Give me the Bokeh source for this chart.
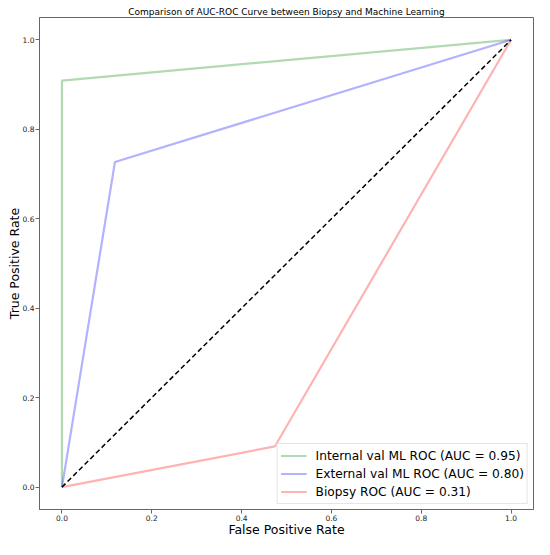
from bokeh.plotting import figure
from bokeh.models import Range1d, FixedTicker, PrintfTickFormatter, Legend, LegendItem
from bokeh.embed import file_html
from bokeh.resources import INLINE

# Data
internal_fpr = [0.0, 0.0, 1.0]
internal_tpr = [0.0, 0.909, 1.0]
external_fpr = [0.0, 0.118, 1.0]
external_tpr = [0.0, 0.727, 1.0]
biopsy_fpr = [0.0, 0.474, 1.0]
biopsy_tpr = [0.0, 0.091, 1.0]
diag = [0.0, 1.0]
labels = ["Internal val ML ROC (AUC = 0.95)",
          "External val ML ROC (AUC = 0.80)",
          "Biopsy ROC (AUC = 0.31)"]
ticks = [0.0, 0.2, 0.4, 0.6, 0.8, 1.0]

FONT = "DejaVu Sans"

p = figure(width=534, height=539, output_backend="svg", toolbar_location=None,
           x_range=Range1d(-0.05, 1.05), y_range=Range1d(-0.05, 1.05),
           min_border_left=39, min_border_right=1, min_border_top=17, min_border_bottom=0)

p.title.text = "Comparison of AUC-ROC Curve between Biopsy and Machine Learning"
p.title.text_font = FONT
p.title.text_font_size = "9px"
p.title.text_font_style = "normal"
p.title.text_color = "black"
p.title.align = "center"
p.title.offset = 0
p.title.standoff = 2

r1 = p.line(internal_fpr, internal_tpr, line_color="green", line_alpha=0.3, line_width=2.2)
r2 = p.line(external_fpr, external_tpr, line_color="blue", line_alpha=0.3, line_width=2.2)
r3 = p.line(biopsy_fpr, biopsy_tpr, line_color="red", line_alpha=0.3, line_width=2.2)
p.line(diag, diag, line_color="black", line_dash="5 3", line_width=1.5)

legend = Legend(items=[LegendItem(label=labels[0], renderers=[r1]),
                       LegendItem(label=labels[1], renderers=[r2]),
                       LegendItem(label=labels[2], renderers=[r3])],
                location="bottom_right")
legend.label_text_font = FONT
legend.label_text_font_size = "12.2px"
legend.label_text_color = "black"
legend.label_height = 17
legend.glyph_width = 26
legend.glyph_height = 17
legend.label_standoff = 9
legend.spacing = 1
legend.padding = 3
legend.margin = 5
legend.border_line_color = "#cccccc"
legend.background_fill_alpha = 0.8
p.add_layout(legend)

for ax in (p.xaxis, p.yaxis):
    ax.ticker = FixedTicker(ticks=ticks)
    ax.formatter = PrintfTickFormatter(format="%.1f")
    ax.major_label_text_font = FONT
    ax.major_label_text_font_size = "7.5px"
    ax.major_label_text_color = "#222222"
    ax.minor_tick_line_color = None
    ax.major_tick_out = 4
    ax.major_tick_in = 0
    ax.axis_line_color = "#666666"
    ax.major_tick_line_color = "#666666"
    ax.axis_label_text_font = FONT
    ax.axis_label_text_font_size = "12.5px"
    ax.axis_label_text_font_style = "normal"
    ax.axis_label_text_color = "black"
    ax.axis_label_standoff = -2
    ax.major_label_standoff = 1

p.xaxis.axis_label = "False Positive Rate"
p.yaxis.axis_label = "True Positive Rate"
p.outline_line_color = "#666666"
p.outline_line_alpha = 1.0
p.xgrid.grid_line_color = None
p.ygrid.grid_line_color = None

open("out.html", "w").write(file_html(p, INLINE))
